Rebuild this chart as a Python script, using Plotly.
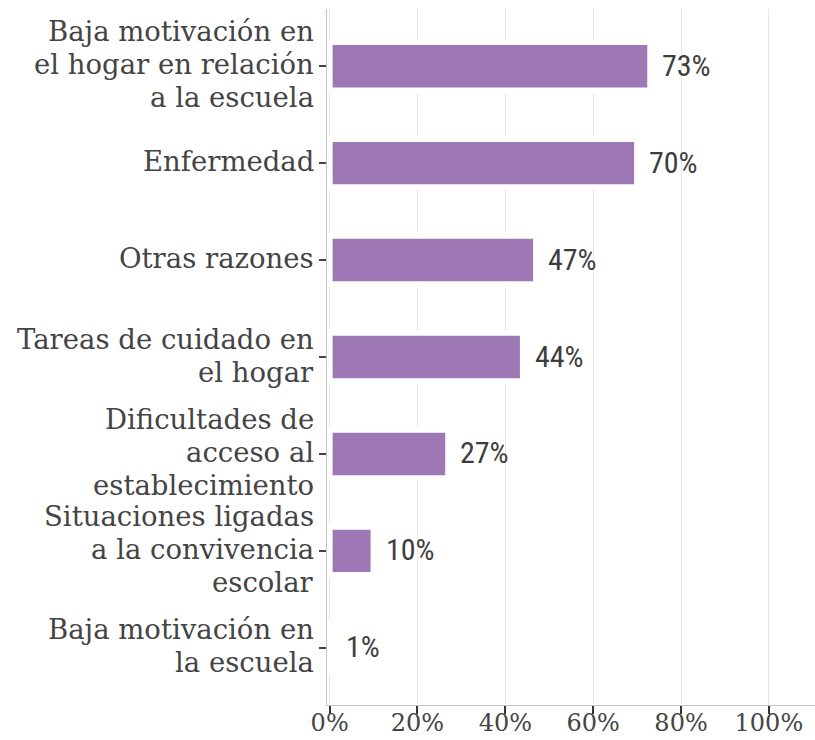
import plotly.graph_objects as go

# Reasons and their shares (percent)
categories = [
    "Baja motivación en<br>el hogar en relación<br>a la escuela",
    "Enfermedad",
    "Otras razones",
    "Tareas de cuidado en<br>el hogar",
    "Dificultades de<br>acceso al<br>establecimiento",
    "Situaciones ligadas<br>a la convivencia<br>escolar",
    "Baja motivación en<br>la escuela",
]
values = [73, 70, 47, 44, 27, 10, 1]
x_ticks = [0, 20, 40, 60, 80, 100]
x_tick_labels = [f"{v}%" for v in x_ticks]

BAR_COLOR = "#9e78b5"
SERIF = "Roboto Slab, DejaVu Serif, serif"
CONDENSED = "Roboto Condensed, Liberation Sans Narrow, Roboto, sans-serif"
LABEL_LINE_GAP = 33  # px between lines of a category label

fig = go.Figure()
fig.add_trace(go.Bar(
    x=values,
    y=categories,
    orientation="h",
    width=0.5,
    marker=dict(color=BAR_COLOR, line=dict(color="white", width=6)),
    hoverinfo="skip",
))

# value labels just past the end of each bar
for cat, v in zip(categories, values):
    fig.add_annotation(
        x=v, y=cat, text=f"{v}%", showarrow=False,
        xanchor="left", yanchor="middle", xshift=10, yshift=1,
        font=dict(family=CONDENSED, size=30, color="#3d3d3d"),
    )

# category labels, one line at a time for tighter line spacing
for cat in categories:
    lines = cat.split("<br>")
    n = len(lines)
    for i, line in enumerate(lines):
        fig.add_annotation(
            xref="paper", x=0, y=cat, text=line, showarrow=False,
            xanchor="right", yanchor="middle",
            xshift=-11, yshift=-(i - (n - 1) / 2) * LABEL_LINE_GAP + 2,
            font=dict(family=SERIF, size=27.5, color="#444444"),
        )

fig.update_layout(
    width=815, height=740,
    margin=dict(l=327, r=0, t=9, b=35),
    paper_bgcolor="white", plot_bgcolor="white",
    showlegend=False,
)
fig.update_xaxes(
    range=[-0.6, 110.5],
    tickvals=x_ticks, ticktext=x_tick_labels,
    automargin=False,
    showgrid=True, gridcolor="#e6e6e6", gridwidth=1, zeroline=False,
    showline=True, linecolor="#c4c4c4", linewidth=1,
    ticks="outside", ticklen=8, tickwidth=2, tickcolor="#333333",
    ticklabelstandoff=-12,
    tickfont=dict(family=SERIF, size=24, color="#444444"),
)
fig.update_yaxes(
    type="category",
    categoryorder="array", categoryarray=categories,
    range=[6.59, -0.59],
    automargin=False,
    showgrid=False, zeroline=False,
    showline=True, linecolor="#c4c4c4", linewidth=1,
    ticks="outside", ticklen=7, tickwidth=2, tickcolor="#444444",
    showticklabels=False,
)

fig.write_html("out.html")
